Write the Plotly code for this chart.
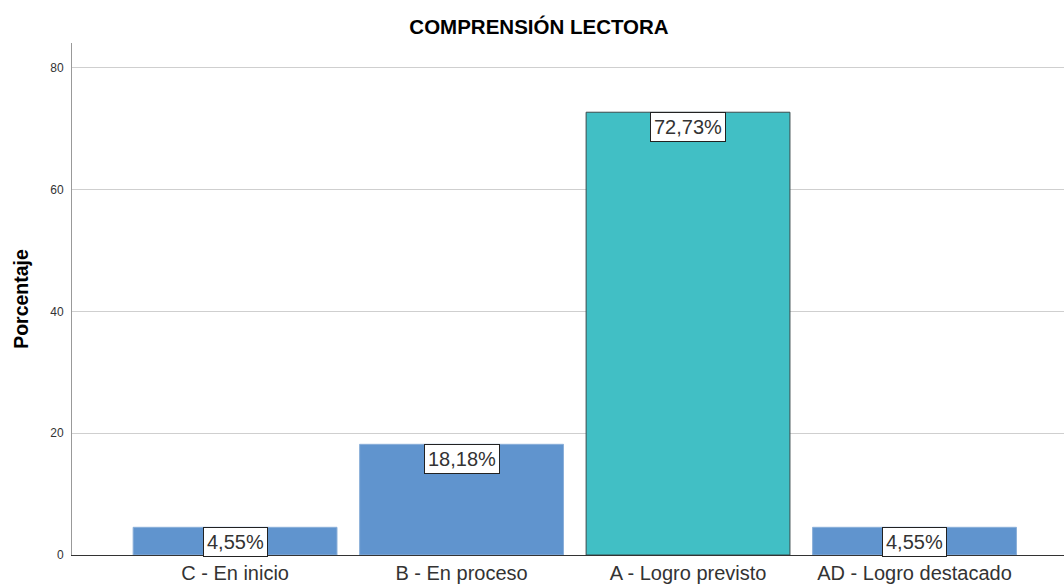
import plotly.graph_objects as go

categories = ["C - En inicio", "B - En proceso", "A - Logro previsto", "AD - Logro destacado"]
values = [4.55, 18.18, 72.73, 4.55]
labels = ["4,55%", "18,18%", "72,73%", "4,55%"]
colors = ["#6094CE", "#6094CE", "#41BFC5", "#6094CE"]
outlines = ["#8AAFD9", "#8AAFD9", "#3A4A4C", "#8AAFD9"]
y_ticks = [0, 20, 40, 60, 80]

FONT = "Liberation Sans, Arial"

fig = go.Figure()
fig.add_trace(go.Bar(
    x=list(range(len(categories))), y=values, width=0.9,
    marker=dict(color=colors, line=dict(color=outlines, width=1)),
    hoverinfo="skip",
))

for i, (v, t) in enumerate(zip(values, labels)):
    fig.add_annotation(
        x=i, y=v, text=t, showarrow=False, yanchor="top", xanchor="center",
        font=dict(family=FONT, size=20, color="#333333"),
        bgcolor="white", bordercolor="#222222", borderwidth=1, borderpad=3,
    )

fig.update_layout(
    width=1064, height=587,
    margin=dict(l=72, r=0, t=43, b=32),
    plot_bgcolor="white", paper_bgcolor="white",
    showlegend=False,
    title=dict(text="<b>COMPRENSIÓN LECTORA</b>", x=539 / 1064, xanchor="center", y=1 - 27 / 587, yanchor="middle",
               font=dict(family=FONT, size=20.5, color="#000000")),
    font=dict(family=FONT),
)
fig.update_xaxes(
    range=[-0.72, 3.66], tickmode="array", tickvals=list(range(len(categories))), ticktext=categories,
    tickfont=dict(size=20, color="#333333"), showgrid=False, showline=True, linecolor="#333333",
    linewidth=1, ticks="", zeroline=False,
)
fig.update_yaxes(
    range=[0, 84.1], tickmode="array", tickvals=y_ticks, tickfont=dict(size=12, color="#333333"),
    showgrid=True, gridcolor="#CFCFCF", gridwidth=1, showline=True, linecolor="#999999", linewidth=1,
    ticks="outside", ticklen=5, tickcolor="rgba(0,0,0,0)", zeroline=False,
    title=dict(text="<b>Porcentaje</b>", font=dict(size=19.5, color="#000000"), standoff=16),
)
fig.write_html(
    "out.html",
    config={"displayModeBar": False},
    post_script="document.body.style.margin='0';document.body.style.overflow='hidden';",
)
